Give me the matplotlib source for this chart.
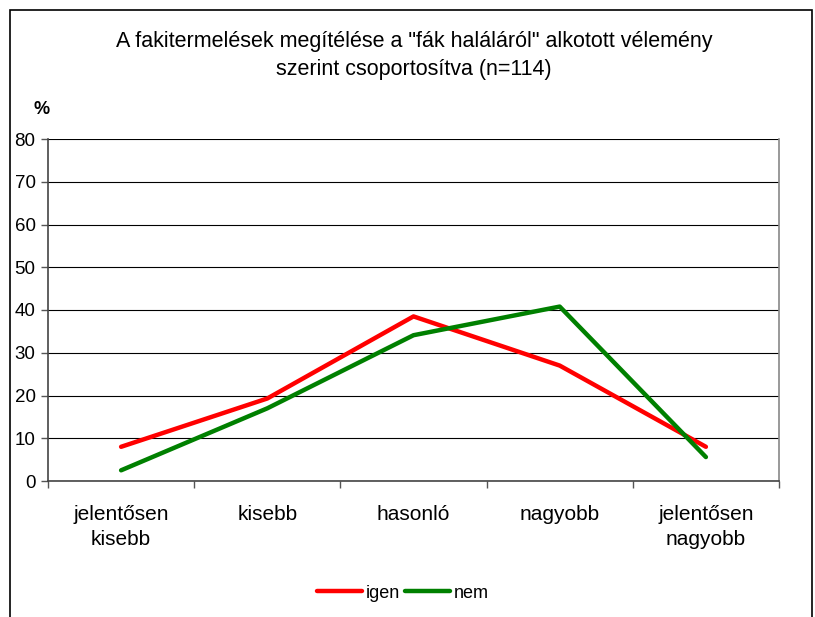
import matplotlib
matplotlib.use("Agg")
import matplotlib.pyplot as plt
from matplotlib.patches import Rectangle

plt.rcParams['font.family'] = ['Liberation Sans', 'DejaVu Sans']

categories = ["jelentősen\nkisebb", "kisebb", "hasonló", "nagyobb", "jelentősen\nnagyobb"]
igen = [8.0, 19.3, 38.5, 27.0, 8.0]
nem = [2.5, 17.0, 34.1, 40.8, 5.6]
yticks = [0, 10, 20, 30, 40, 50, 60, 70, 80]
title = 'A fakitermelések megítélése a "fák haláláról" alkotott vélemény\nszerint csoportosítva (n=114)'

W, H = 815, 617
fig = plt.figure(figsize=(W / 100, H / 100), dpi=100)
fig.patches.append(Rectangle((10 / W, -0.1), (812 - 10) / W, 1.1 - 10 / H,
                             transform=fig.transFigure, fill=False,
                             edgecolor='black', linewidth=1.2))

ax = fig.add_axes([48 / W, (H - 481) / H, 731 / W, 342 / H])
x = list(range(len(categories)))
ax.plot(x, igen, color='#ff0000', linewidth=3.2, solid_capstyle='round', label='igen', zorder=3)
ax.plot(x, nem, color='#008000', linewidth=3.2, solid_capstyle='round', label='nem', zorder=3)

ax.set_xlim(-0.5, len(categories) - 0.5)
ax.set_ylim(0, 80)
ax.set_yticks(yticks)
ax.set_yticklabels([str(v) for v in yticks], fontsize=13.5)
ax.yaxis.grid(True, color='black', linewidth=0.8)
ax.set_axisbelow(True)

ax.set_xticks([i - 0.5 for i in range(len(categories) + 1)])
ax.set_xticklabels([])
ax.set_xticks(x, minor=True)
ax.set_xticklabels(categories, minor=True, fontsize=15, linespacing=1.45)
ax.tick_params(axis='x', which='minor', length=0, pad=17)
ax.tick_params(axis='x', which='major', length=5, direction='out', width=1, color='#555555')
ax.tick_params(axis='y', length=5, direction='out', width=1, color='#555555', pad=4)

for s in ['left', 'bottom']:
    ax.spines[s].set_color('#444444')
    ax.spines[s].set_linewidth(1.2)
for s in ['right', 'top']:
    ax.spines[s].set_color('#888888')
    ax.spines[s].set_linewidth(1.2)
ax.spines['top'].set_visible(False)

fig.text(414 / W, 1 - 55.5 / H, title, ha='center', va='center', fontsize=15.5, linespacing=1.42)
fig.text(42 / W, 1 - 110 / H, '%', ha='center', va='center', fontsize=13, fontweight='bold')

leg = fig.legend(loc='center', bbox_to_anchor=(403 / W, 1 - 593 / H), ncol=2, frameon=False,
                 fontsize=13, handlelength=2.5, handletextpad=0.2, columnspacing=0.3)

fig.savefig('out.png', dpi=100)
